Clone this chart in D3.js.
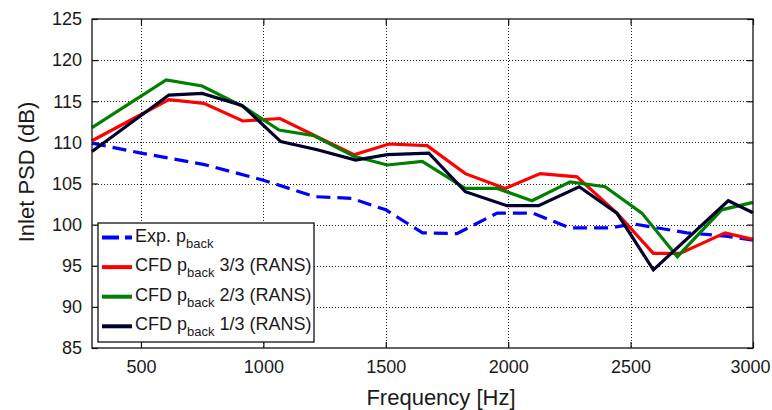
<!DOCTYPE html>
<html>
<head>
<meta charset="utf-8">
<script src="https://cdn.jsdelivr.net/npm/d3@7"></script>
<style>
  body { margin: 0; background: #fff; }
  text { font-family: "Liberation Sans", Arial, Helvetica, sans-serif; fill: #1a1a1a; }
</style>
</head>
<body>
<div id="chart"></div>
<script>
// tick values
const xTicks = [500, 1000, 1500, 2000, 2500, 3000];
const yTicks = [85, 90, 95, 100, 105, 110, 115, 120, 125];

// Exp. p_back
const expFreq = [300, 500, 760, 1000, 1210, 1360, 1500, 1650, 1790, 1955, 2100, 2253, 2420, 2510, 2730, 2890, 3000];
const expPsd  = [109.9, 108.7, 107.3, 105.4, 103.4, 103.2, 101.8, 99.0, 98.9, 101.4, 101.4, 99.6, 99.6, 100.1, 99.0, 98.6, 98.1];

// CFD p_back 3/3 (RANS)
const cfd33Freq = [300, 614, 757, 916, 967, 1068, 1370, 1513, 1669, 1825, 1988, 2131, 2281, 2444, 2593, 2702, 2886, 3000];
const cfd33Psd  = [110.2, 115.2, 114.75, 112.6, 112.7, 112.9, 108.5, 109.8, 109.6, 106.2, 104.4, 106.2, 105.8, 101.4, 96.5, 96.5, 99.0, 98.2];

// CFD p_back 2/3 (RANS)
const cfd23Freq = [300, 603, 750, 920, 1064, 1207, 1370, 1506, 1649, 1825, 1955, 2097, 2253, 2396, 2546, 2691, 2872, 3000];
const cfd23Psd  = [111.8, 117.6, 116.85, 114.3, 111.5, 110.8, 108.3, 107.25, 107.7, 104.4, 104.4, 102.9, 105.2, 104.6, 101.4, 96.1, 101.8, 102.7];

// CFD p_back 1/3 (RANS)
const cfd13Freq = [300, 614, 750, 913, 1071, 1220, 1377, 1506, 1676, 1825, 1995, 2124, 2290, 2444, 2593, 2899, 3000];
const cfd13Psd  = [108.9, 115.75, 115.95, 114.5, 110.1, 109.1, 107.85, 108.5, 108.7, 104.0, 102.3, 102.3, 104.6, 101.4, 94.5, 102.9, 101.45];

const series = [
  { name: "Exp.", ratio: "", f: expFreq, v: expPsd, color: "#0000ff", dash: "14,7" },
  { name: "CFD", ratio: " 3/3 (RANS)", f: cfd33Freq, v: cfd33Psd, color: "#ff0000", dash: null },
  { name: "CFD", ratio: " 2/3 (RANS)", f: cfd23Freq, v: cfd23Psd, color: "#007f00", dash: null },
  { name: "CFD", ratio: " 1/3 (RANS)", f: cfd13Freq, v: cfd13Psd, color: "#00002e", dash: null }
];

const W = 772, H = 410;
const plot = { left: 92, right: 753, top: 19, bottom: 348 };

const svg = d3.select("#chart").append("svg")
  .attr("width", W).attr("height", H);

const x = d3.scaleLinear().domain([300, 3000]).range([plot.left, plot.right]);
const y = d3.scaleLinear().domain([85, 125]).range([plot.bottom, plot.top]);

// grid
const grid = svg.append("g").attr("class", "grid")
  .attr("stroke", "#222").attr("stroke-width", 1).attr("stroke-dasharray", "1,2");
grid.selectAll("line.gx").data(xTicks.filter(t => t < 3000)).enter()
  .append("line").attr("class", "gx")
  .attr("x1", d => Math.round(x(d)) + 0.5).attr("x2", d => Math.round(x(d)) + 0.5)
  .attr("y1", plot.top).attr("y2", plot.bottom);
grid.selectAll("line.gy").data(yTicks.filter(t => t > 85 && t < 125)).enter()
  .append("line").attr("class", "gy")
  .attr("y1", d => Math.round(y(d)) + 0.5).attr("y2", d => Math.round(y(d)) + 0.5)
  .attr("x1", plot.left).attr("x2", plot.right);

// axes (ticks pointing inward on all four sides)
const tk = 6, fmt = d3.format("d");
const axB = svg.append("g").attr("transform", `translate(0,${plot.bottom})`)
  .call(d3.axisBottom(x).tickValues(xTicks).tickFormat(fmt).tickSizeInner(-tk).tickSizeOuter(0).tickPadding(12));
const axT = svg.append("g").attr("transform", `translate(0,${plot.top})`)
  .call(d3.axisTop(x).tickValues(xTicks).tickSizeInner(-tk).tickSizeOuter(0).tickFormat(""));
const axL = svg.append("g").attr("transform", `translate(${plot.left},0)`)
  .call(d3.axisLeft(y).tickValues(yTicks).tickFormat(fmt).tickSizeInner(-tk).tickSizeOuter(0).tickPadding(10));
const axR = svg.append("g").attr("transform", `translate(${plot.right},0)`)
  .call(d3.axisRight(y).tickValues(yTicks).tickSizeInner(-tk).tickSizeOuter(0).tickFormat(""));

[axB, axT, axL, axR].forEach(a => {
  a.select(".domain").remove();
  a.selectAll(".tick line").attr("stroke", "#111").attr("stroke-width", 1.2);
  a.selectAll(".tick text").attr("font-size", 18).attr("fill", "#1a1a1a")
    .attr("font-family", '"Liberation Sans", Arial, sans-serif');
});
// keep the last label inside the window
axB.selectAll(".tick text").filter(d => d === 3000).attr("dx", -3);

// lines
const line = d3.line().x(d => x(d[0])).y(d => y(d[1]));
svg.append("g").attr("class", "series").selectAll("path").data(series).enter()
  .append("path")
  .attr("d", s => line(s.f.map((f, i) => [f, s.v[i]])))
  .attr("fill", "none")
  .attr("stroke", s => s.color)
  .attr("stroke-width", 3.2)
  .attr("stroke-linejoin", "miter")
  .attr("stroke-dasharray", s => s.dash);

// frame
svg.append("rect")
  .attr("x", plot.left).attr("y", plot.top)
  .attr("width", plot.right - plot.left).attr("height", plot.bottom - plot.top)
  .attr("fill", "none").attr("stroke", "#111").attr("stroke-width", 1.3);

// legend
const leg = svg.append("g").attr("class", "legend").attr("transform", "translate(98,223)");
leg.append("rect").attr("width", 216).attr("height", 119)
  .attr("fill", "#fff").attr("stroke", "#111").attr("stroke-width", 1.3);
const row = leg.selectAll("g.row").data(series).enter()
  .append("g").attr("class", "row")
  .attr("transform", (d, i) => `translate(0,${14.5 + i * 29.6})`);
row.append("line")
  .attr("x1", 4).attr("x2", 34).attr("y1", 0).attr("y2", 0)
  .attr("stroke", d => d.color).attr("stroke-width", 4)
  .attr("stroke-dasharray", d => d.dash ? "17,6" : null);
const txt = row.append("text").attr("x", 37).attr("y", 4).attr("font-size", 18);
txt.append("tspan").text(d => d.name + " p");
txt.append("tspan").attr("font-size", 13).attr("dy", 6).text("back");
txt.append("tspan").attr("dy", -6).text(d => d.ratio);

// axis titles
svg.append("text")
  .attr("x", 441).attr("y", 405)
  .attr("text-anchor", "middle").attr("font-size", 22)
  .text("Frequency [Hz]");
svg.append("text")
  .attr("transform", "translate(34,172) rotate(-90)")
  .attr("text-anchor", "middle").attr("font-size", 22)
  .text("Inlet PSD (dB)");
</script>
</body>
</html>
